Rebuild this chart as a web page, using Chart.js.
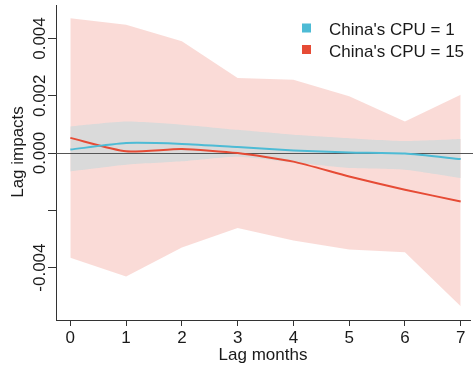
<!DOCTYPE html>
<html>
<head>
<meta charset="utf-8">
<script src="https://cdn.jsdelivr.net/npm/chart.js@4.4.1/dist/chart.umd.min.js"></script>
<style>
  body { margin: 0; background: #fff; }
  canvas { display: block; }
</style>
</head>
<body>
<canvas id="lagChart" width="473" height="367"></canvas>
<script>
// lag months on the x axis
var lags = [0, 1, 2, 3, 4, 5, 6, 7];

// China's CPU = 1 (blue line, grey band)
var cpu1Fit   = [0.00012, 0.00035, 0.00032, 0.00021, 0.00009, 0.00002, -0.00002, -0.00021];
var cpu1Lower = [-0.00064, -0.00041, -0.00029, -0.00013, -0.00033, -0.00052, -0.00058, -0.00087];
var cpu1Upper = [0.00093, 0.00110, 0.00099, 0.00081, 0.00064, 0.00052, 0.00042, 0.00049];

// China's CPU = 15 (red line, pink band)
var cpu15Fit   = [0.00053, 0.00006, 0.00014, 0.00000, -0.00030, -0.00082, -0.00128, -0.00169];
var cpu15Lower = [-0.00366, -0.00431, -0.00330, -0.00262, -0.00305, -0.00337, -0.00346, -0.00535];
var cpu15Upper = [0.00471, 0.00448, 0.00390, 0.00262, 0.00256, 0.00198, 0.00110, 0.00204];

var yTicks = [-0.004, -0.002, 0, 0.002, 0.004];
var yTickLabels = ["-0.004", "", "0.000", "0.002", "0.004"];
var legendLabels = ["China's CPU = 1", "China's CPU = 15"];

var blue = "#4DBBD5";
var red = "#E64B35";

function pts(arr) {
  return lags.map(function (x, i) { return { x: x, y: arr[i] }; });
}

Chart.defaults.font.family = "'Liberation Sans', Arial, sans-serif";
Chart.defaults.font.size = 17;
Chart.defaults.color = "#1a1a1a";

var extras = {
  id: "extras",
  afterDatasetDraw: function (chart, args) {
    // zero reference line, above the bands but below the fitted lines
    if (args.index !== 3) return;
    var ctx = chart.ctx;
    var y0 = Math.round(chart.scales.y.getPixelForValue(0)) + 0.5;
    ctx.save();
    ctx.strokeStyle = "#555";
    ctx.lineWidth = 1;
    ctx.beginPath();
    ctx.moveTo(chart.chartArea.left, y0);
    ctx.lineTo(chart.width, y0);
    ctx.stroke();
    ctx.restore();
  },
  afterDraw: function (chart) {
    var ctx = chart.ctx;
    var ys = chart.scales.y;
    ctx.save();
    ctx.fillStyle = "#1a1a1a";
    ctx.font = "17px 'Liberation Sans', Arial, sans-serif";
    // rotated y tick labels
    yTicks.forEach(function (v, i) {
      if (!yTickLabels[i]) return;
      ctx.save();
      ctx.translate(45, ys.getPixelForValue(v));
      ctx.rotate(-Math.PI / 2);
      ctx.textAlign = "center";
      ctx.textBaseline = "alphabetic";
      ctx.fillText(yTickLabels[i], 0, 0);
      ctx.restore();
    });
    // y axis title
    ctx.save();
    ctx.translate(23, 152);
    ctx.rotate(-Math.PI / 2);
    ctx.textAlign = "center";
    ctx.textBaseline = "alphabetic";
    ctx.fillText("Lag impacts", 0, 0);
    ctx.restore();
    // legend
    var colors = [blue, red];
    legendLabels.forEach(function (t, i) {
      var cy = 28 + i * 21.5;
      ctx.fillStyle = colors[i];
      ctx.fillRect(302, cy - 4.5, 9, 9);
      ctx.fillStyle = "#1a1a1a";
      ctx.textAlign = "left";
      ctx.textBaseline = "alphabetic";
      ctx.fillText(t, 329, cy + 7);
    });
    ctx.restore();
  }
};

new Chart("lagChart", {
  type: "line",
  data: {
    datasets: [
      { label: "cpu15Upper", data: pts(cpu15Upper), fill: "+1", backgroundColor: "rgba(230, 75, 53, 0.2)", borderWidth: 0, pointRadius: 0, tension: 0, order: 7 },
      { label: "cpu15Lower", data: pts(cpu15Lower), fill: false, borderWidth: 0, pointRadius: 0, tension: 0, order: 8 },
      { label: "cpu15", data: pts(cpu15Fit), fill: false, borderColor: red, borderWidth: 2, pointRadius: 0, tension: 0.2, order: 2 },
      { label: "cpu1Upper", data: pts(cpu1Upper), fill: "+1", backgroundColor: "#dadada", borderWidth: 0, pointRadius: 0, tension: 0.2, order: 5 },
      { label: "cpu1Lower", data: pts(cpu1Lower), fill: false, borderWidth: 0, pointRadius: 0, tension: 0.2, order: 6 },
      { label: "cpu1", data: pts(cpu1Fit), fill: false, borderColor: blue, borderWidth: 2, pointRadius: 0, tension: 0.2, order: 1 }
    ]
  },
  options: {
    responsive: false,
    animation: false,
    layout: { padding: { left: 0, top: 5, right: 3, bottom: 0 } },
    plugins: {
      legend: { display: false },
      tooltip: { enabled: false }
    },
    scales: {
      x: {
        type: "linear",
        min: -0.257,
        max: 7.167,
        afterBuildTicks: function (scale) {
          scale.ticks = lags.map(function (v) { return { value: v }; });
        },
        afterFit: function (scale) { scale.height = 47; },
        grid: { display: true, drawOnChartArea: false, drawTicks: true, tickLength: 6, tickColor: "#333" },
        border: { display: true, color: "#333", width: 1 },
        ticks: { padding: 2, maxRotation: 0, color: "#1a1a1a" },
        title: { display: true, text: "Lag months", color: "#1a1a1a", padding: { top: 0, bottom: 1 } }
      },
      y: {
        type: "linear",
        min: -0.00583,
        max: 0.00517,
        afterBuildTicks: function (scale) {
          scale.ticks = yTicks.map(function (v) { return { value: v }; });
        },
        afterFit: function (scale) { scale.width = 56; },
        grid: { display: true, drawOnChartArea: false, drawTicks: true, tickLength: 8, tickColor: "#333" },
        border: { display: true, color: "#333", width: 1 },
        ticks: { display: false }
      }
    }
  },
  plugins: [extras]
});
</script>
</body>
</html>
